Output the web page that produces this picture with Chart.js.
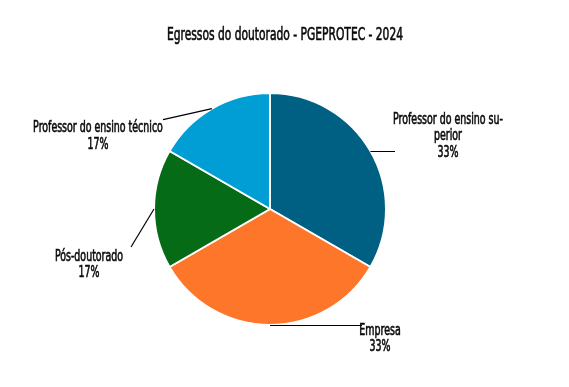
<!DOCTYPE html>
<html>
<head>
<meta charset="utf-8">
<script src="https://cdn.jsdelivr.net/npm/chart.js@4/dist/chart.umd.min.js"></script>
<style>
  html, body { margin: 0; padding: 0; background: #fff; }
  #wrap { width: 569px; height: 387px; }
</style>
</head>
<body>
<div id="wrap"><canvas id="pie" width="569" height="387"></canvas></div>
<script>
const titleText = "Egressos do doutorado - PGEPROTEC - 2024";
const categories = [
    ["Professor do ensino su-", "perior"],
    ["Empresa"],
    ["Pós-doutorado"],
    ["Professor do ensino técnico"]
];
const shares = [33, 33, 17, 17];
const counts = [2, 2, 1, 1];
const colors = ["#006084", "#fd762a", "#066b16", "#019ed6"];

// leader line end + label anchor for each slice (layout only)
const leaders = [
    { end: [395, 0], text: [448, -31], mode: "h" },
    { end: [362, 0], text: [380, 6], mode: "h" },
    { end: [-23, 38], text: [-65, 48], mode: "d" },
    { end: [-49, 11], text: [-114, 20], mode: "d" }
];

const FONT = "'Liberation Sans Narrow', 'DejaVu Sans Condensed', sans-serif";

// draw horizontally condensed text, slightly emboldened
function squeezed(ctx, text, x, y, sx) {
    ctx.save();
    ctx.translate(x, y);
    ctx.scale(sx, 1);
    ctx.fillText(text, 0, 0);
    ctx.lineWidth = 0.6;
    ctx.strokeStyle = ctx.fillStyle;
    ctx.strokeText(text, 0, 0);
    ctx.restore();
}

const labelPlugin = {
    id: "pieLabels",
    afterDraw(chart) {
        const ctx = chart.ctx;
        ctx.save();
        ctx.fillStyle = "#0a0a0a";
        ctx.textAlign = "center";
        ctx.textBaseline = "middle";
        ctx.font = "17px " + FONT;
        squeezed(ctx, titleText, 285, 36, 0.70);

        const arcs = chart.getDatasetMeta(0).data;
        arcs.forEach((arc, i) => {
            const p = arc.getProps(["x", "y", "startAngle", "endAngle", "outerRadius"], true);
            const mid = (p.startAngle + p.endAngle) / 2;
            const ex = p.x + Math.cos(mid) * p.outerRadius;
            const ey = p.y + Math.sin(mid) * p.outerRadius;
            const L = leaders[i];
            let lx, ly, tx, ty;
            ctx.strokeStyle = "#000";
            if (L.mode === "h") {
                ly = Math.round(ey) + 0.5;
                lx = L.end[0];
                tx = L.text[0]; ty = ey + L.text[1];
                ctx.lineWidth = 1;
                ctx.beginPath();
                ctx.moveTo(ex, ly);
                ctx.lineTo(lx, ly);
                ctx.stroke();
            } else {
                lx = ex + L.end[0]; ly = ey + L.end[1];
                tx = ex + L.text[0]; ty = ey + L.text[1];
                ctx.lineWidth = 1.2;
                ctx.beginPath();
                ctx.moveTo(ex, ey);
                ctx.lineTo(lx, ly);
                ctx.stroke();
            }

            const lines = categories[i].concat([shares[i] + "%"]);
            ctx.font = "15px " + FONT;
            ctx.fillStyle = "#0a0a0a";
            lines.forEach((t, k) => squeezed(ctx, t, tx, ty + k * 16.5, 0.70));
        });
        ctx.restore();
    }
};

new Chart(document.getElementById("pie"), {
    type: "pie",
    data: {
        labels: categories.map(c => c.join("")),
        datasets: [{
            data: counts,
            backgroundColor: colors,
            borderColor: "#fff",
            borderWidth: 2
        }]
    },
    options: {
        responsive: false,
        animation: false,
        layout: { padding: { top: 92, bottom: 61, left: 153, right: 182 } },
        plugins: {
            legend: { display: false },
            tooltip: { enabled: false },
            title: { display: false }
        }
    },
    plugins: [labelPlugin]
});
</script>
</body>
</html>
